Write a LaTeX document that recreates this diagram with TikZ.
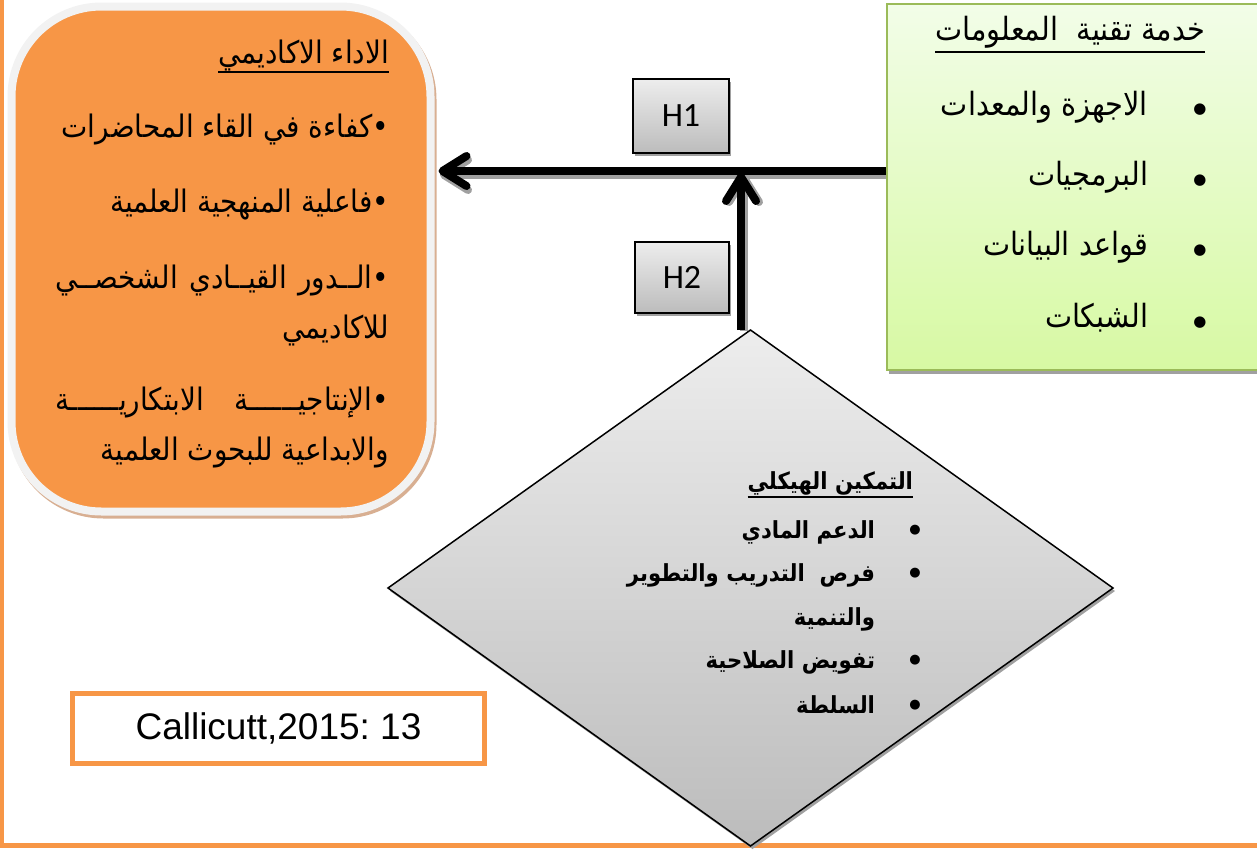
\documentclass[tikz,border=0pt]{standalone}
\usepackage{fontspec}
\usetikzlibrary{arrows.meta,shapes.geometric,backgrounds,calc}
\TeXXeTstate=1
\newfontfamily\arabicfont[Script=Arabic,FakeStretch=0.9]{DejaVu Sans}
\newfontfamily\symfont{DejaVu Sans}
\newfontfamily\latinfont{Liberation Sans}
\newfontfamily\calfont{Carlito}
\definecolor{frameorange}{HTML}{F79646}
\definecolor{rimgray}{HTML}{F2F2F2}
\definecolor{rimshadow}{HTML}{D8AF92}
\definecolor{greenline}{HTML}{9BBB59}
\definecolor{greentop}{HTML}{F2FDE8}
\definecolor{greenbottom}{HTML}{D7F9A3}
\definecolor{graytop}{HTML}{EDEDED}
\definecolor{graybottom}{HTML}{BCBCBC}
\definecolor{dropshadow}{HTML}{A0A0A0}
\frenchspacing
\begin{document}
\begin{tikzpicture}[x=1pt,y=-1pt,
  arab/.style={inner sep=0pt, outer sep=0pt, anchor=base east,
    font=\arabicfont\fontsize{32}{36}\selectfont},
  arabo/.style={arab, font=\arabicfont\fontsize{31}{36}\selectfont},
  arabbold/.style={inner sep=0pt, outer sep=0pt, anchor=base east,
    font=\arabicfont\bfseries\fontsize{23.5}{28}\selectfont},
  dot/.style={inner sep=0pt, outer sep=0pt, anchor=center,
    font=\symfont\fontsize{15}{18}\selectfont},
  smalldot/.style={inner sep=0pt, outer sep=0pt, anchor=center,
    font=\symfont\fontsize{13}{16}\selectfont},
  flowline/.style={line width=8pt,
    -{Straight Barb[length=24pt,width=30pt,round]}},
  flowshadow/.style={flowline, draw=dropshadow},
  hbox/.style={draw=black, line width=1.2pt, top color=graytop,
    bottom color=graybottom, inner sep=0pt, outer sep=0pt,
    font=\calfont\fontsize{34}{40}\selectfont,
    preaction={fill=dropshadow, transform canvas={shift={(2pt,-3pt)}}}},
  underl/.style={line width=2pt}
]
\useasboundingbox (0,0) rectangle (1257,849);

% page frame (left and bottom edges)
\draw[frameorange, line width=4.5pt] (2,-5) -- (2,845.5) -- (1262,845.5);

% academic performance box
\node[draw=rimgray, line width=8pt, fill=frameorange, rounded corners=90pt,
  minimum width=419pt, minimum height=505pt, inner sep=0pt, outer sep=0pt,
  preaction={draw=rimshadow, line width=8pt, transform canvas={shift={(2pt,-3pt)}}}]
  (perf) at (221,259) {};

\node[arabo] (perfT) at (389,63) {\beginR الاداء الاكاديمي\endR};
\draw[underl] ([yshift=-9pt]perfT.base west) -- ([yshift=-9pt]perfT.base east);
\node[arabo] (perf1) at (389,137) {\beginR •كفاءة في القاء المحاضرات\endR};
\node[arabo] (perf2) at (389,212) {\beginR •فاعلية المنهجية العلمية\endR};
\node[arabo] (perf3) at (389,288) {\hbox to 334pt{\beginR •الــدور\hfill القيــادي\hfill الشخصــي\endR}};
\node[arabo] (perf3b) at (389,338) {\beginR للاكاديمي\endR};
\node[arabo] (perf4) at (389,410) {\hbox to 334pt{\beginR •الإنتاجيــــــة\hfill الابتكاريــــــة\endR}};
\node[arabo] (perf4b) at (389,460) {\beginR والابداعية للبحوث العلمية\endR};

% IT service box
\node[draw=greenline, line width=2pt, top color=greentop, bottom color=greenbottom,
  minimum width=376pt, minimum height=366pt, inner sep=0pt, outer sep=0pt,
  preaction={fill=dropshadow, transform canvas={shift={(1.5pt,-4pt)}}}]
  (itsvc) at (1075,187) {};

\node[arab] (itT) at (1205,40) {\beginR خدمة تقنية\ \ المعلومات\endR};
\draw[underl] ([yshift=-12pt]itT.base west) -- ([yshift=-12pt]itT.base east);
\node[dot] (itb1) at (1200,110) {●};
\node[dot] (itb2) at (1200,181) {●};
\node[dot] (itb3) at (1200,251) {●};
\node[dot] (itb4) at (1200,323) {●};
\node[arab] (it1) at (1148,115) {\beginR الاجهزة والمعدات\endR};
\node[arab] (it2) at (1148,185) {\beginR البرمجيات\endR};
\node[arab] (it3) at (1148,255) {\beginR قواعد البيانات\endR};
\node[arab] (it4) at (1148,327) {\beginR الشبكات\endR};

% structural empowerment diamond
\node[diamond, draw=black, line width=1.5pt, top color=graytop, bottom color=graybottom,
  minimum width=725pt, minimum height=516pt, inner sep=0pt, outer sep=0pt,
  preaction={fill=dropshadow, transform canvas={shift={(2pt,-3pt)}}}]
  (emp) at (750.5,588) {};

\node[arabbold] (empT) at (913,489) {\beginR التمكين الهيكلي\endR};
\draw[underl] ([yshift=-8pt]empT.base west) -- ([yshift=-8pt]empT.base east);
\node[smalldot] (eb1) at (915,530) {●};
\node[smalldot] (eb2) at (915,573) {●};
\node[smalldot] (eb3) at (915,660) {●};
\node[smalldot] (eb4) at (915,705) {●};
\node[arabbold] (e1) at (875,538) {\beginR الدعم المادي\endR};
\node[arabbold] (e2) at (875,581) {\beginR فرص\ \ التدريب والتطوير\endR};
\node[arabbold] (e2b) at (875,625) {\beginR والتنمية\endR};
\node[arabbold] (e3) at (875,668) {\beginR تفويض الصلاحية\endR};
\node[arabbold] (e4) at (875,713) {\beginR السلطة\endR};

% hypothesis labels
\node[hbox, minimum width=96pt, minimum height=74pt] (h1) at (681,116) {H1};
\node[hbox, minimum width=94pt, minimum height=71pt] (h2) at (682,277.5) {H2};

% citation
\node[draw=frameorange, line width=5pt, fill=white, minimum width=412pt,
  minimum height=70pt, inner sep=0pt, outer sep=0pt,
  font=\latinfont\fontsize{37}{44}\selectfont] (cite) at (278.5,728.5) {Callicutt,2015: 13};

% hypothesis arrows, with their drop shadows
\coordinate (j) at (741,171);
\coordinate (hstart) at (itsvc.west |- j);
\coordinate (hend) at (perf.east |- j);
\coordinate (vstart) at (j |- emp.north);
\begin{scope}[on background layer]
  \draw[flowshadow, shorten >=8pt] ($(hstart)+(1.5,4)$) -- ($(hend)+(1.5,4)$);
  \draw[flowshadow, shorten >=2pt] ($(vstart)+(3,1)$) -- ($(j)+(3,1)$);
  \draw[flowline, shorten >=8pt] (hstart) -- (hend);
  \draw[flowline, shorten >=2pt] (vstart) -- (j);
\end{scope}
\end{tikzpicture}
\end{document}
